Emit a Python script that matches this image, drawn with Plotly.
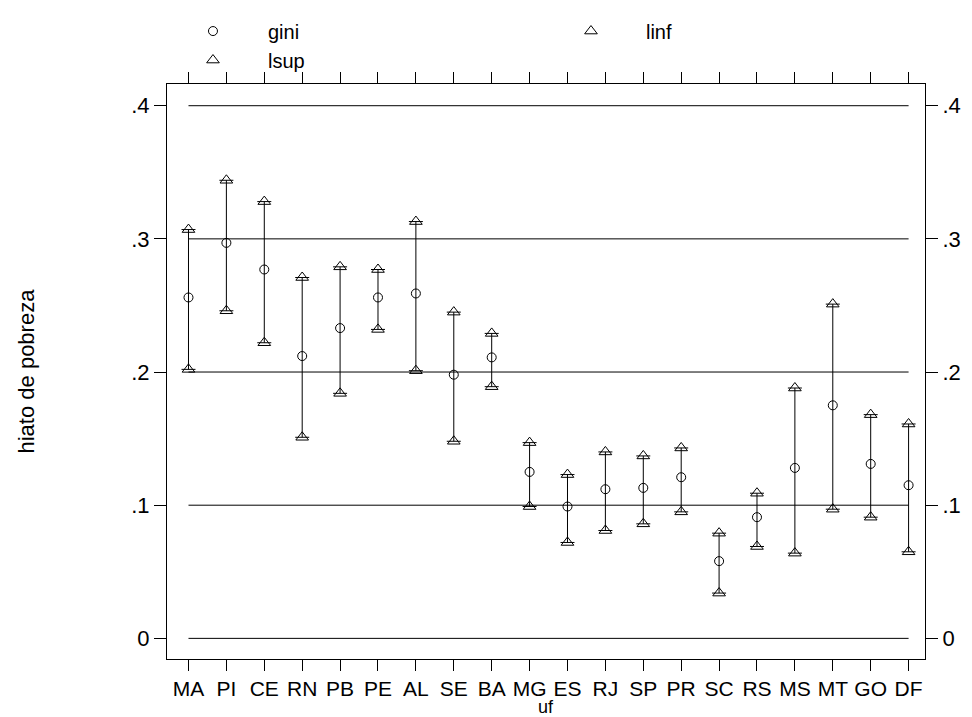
import plotly.graph_objects as go

uf = ["MA", "PI", "CE", "RN", "PB", "PE", "AL", "SE", "BA", "MG",
      "ES", "RJ", "SP", "PR", "SC", "RS", "MS", "MT", "GO", "DF"]
gini = [0.256, 0.297, 0.277, 0.212, 0.233, 0.256, 0.259, 0.198, 0.211, 0.125,
        0.099, 0.112, 0.113, 0.121, 0.058, 0.091, 0.128, 0.175, 0.131, 0.115]
linf = [0.202, 0.246, 0.222, 0.151, 0.184, 0.232, 0.201, 0.148, 0.189, 0.099,
        0.072, 0.081, 0.086, 0.095, 0.034, 0.069, 0.064, 0.097, 0.091, 0.065]
lsup = [0.307, 0.344, 0.328, 0.271, 0.279, 0.277, 0.313, 0.245, 0.229, 0.147,
        0.123, 0.140, 0.137, 0.143, 0.079, 0.109, 0.188, 0.251, 0.168, 0.161]
ytick_vals = [0, 0.1, 0.2, 0.3, 0.4]
ytick_text = ["0", ".1", ".2", ".3", ".4"]

FONT = "Liberation Sans, Arial, sans-serif"
x = list(range(len(uf)))

fig = go.Figure()
fig.add_trace(go.Scatter(
    x=x, y=gini, mode="markers", name="gini",
    marker=dict(symbol="circle-open", size=9, color="black", line=dict(width=1)),
    error_y=dict(type="data", symmetric=False,
                 array=[u - g for u, g in zip(lsup, gini)],
                 arrayminus=[g - l for g, l in zip(gini, linf)],
                 color="black", thickness=1, width=7),
))
fig.add_trace(go.Scatter(
    x=x, y=linf, mode="markers", name="linf",
    marker=dict(symbol="triangle-up-open", size=11, color="black", line=dict(width=1)),
))
fig.add_trace(go.Scatter(
    x=x, y=lsup, mode="markers", name="lsup",
    marker=dict(symbol="triangle-up-open", size=11, color="black", line=dict(width=1)),
))
fig.add_trace(go.Scatter(x=[x[0]], y=[gini[0]], yaxis="y2", mode="markers",
                         marker=dict(opacity=0), showlegend=False, hoverinfo="skip"))

for v in ytick_vals:
    fig.add_shape(type="line", xref="x", yref="y", x0=x[0], x1=x[-1], y0=v, y1=v,
                  line=dict(color="black", width=1), layer="below")

yrange = [-0.0155, 0.4163]
fig.update_layout(
    width=972, height=717,
    margin=dict(l=167, r=47, t=75, b=58),
    paper_bgcolor="white", plot_bgcolor="white",
    font=dict(family=FONT, size=20, color="black"),
    showlegend=True,
    legend=dict(orientation="h", x=-0.0119, xanchor="left", y=1.126, yanchor="top",
                itemwidth=100, entrywidth=263, entrywidthmode="pixels",
                font=dict(size=20), bgcolor="rgba(0,0,0,0)", tracegroupgap=0),
    xaxis=dict(range=[-0.567, 19.433], tickvals=x, ticktext=uf, showgrid=False,
               zeroline=False, showline=True, linecolor="black", linewidth=1,
               mirror="ticks", ticks="outside", ticklen=11, tickcolor="black",
               tickfont=dict(size=21)),
    yaxis=dict(range=yrange, tickvals=ytick_vals, ticktext=ytick_text, showgrid=False,
               zeroline=False, showline=True, linecolor="black", linewidth=1,
               mirror=True, ticks="outside", ticklen=12, tickcolor="black",
               tickfont=dict(size=22)),
    yaxis2=dict(range=yrange, tickvals=ytick_vals, ticktext=ytick_text, overlaying="y",
                side="right", showgrid=False, zeroline=False, showline=False,
                ticks="outside", ticklen=12, tickcolor="black", tickfont=dict(size=22)),
    annotations=[
        dict(text="hiato de pobreza", xref="paper", yref="paper",
             x=(26 - 167) / 758, y=0.5, textangle=-90, showarrow=False,
             xanchor="center", yanchor="middle", font=dict(size=22)),
        dict(text="uf", xref="paper", yref="paper", x=0.5, y=(659 - 708) / 584,
             showarrow=False, xanchor="center", yanchor="middle", font=dict(size=18)),
    ],
)

fig.write_html("out.html")
